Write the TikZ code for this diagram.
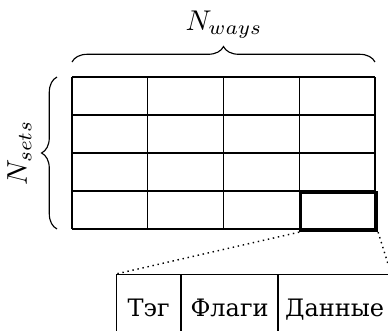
\documentclass[tikz,border=0pt]{standalone}
\usepackage{fontspec}
\newfontfamily\cyrfont{DejaVu Serif}
\usetikzlibrary{decorations.pathreplacing}
\begin{document}
\begin{tikzpicture}[x=0.35pt,y=-0.35pt,
  gridline/.style={line width=0.4pt},
  selcell/.style={draw,line width=1.1pt,inner sep=0pt,anchor=north west,
    minimum width=26.51pt,minimum height=13.3pt},
  fieldbox/.style={draw,line width=0.4pt,inner sep=0pt,anchor=north west,
    minimum height=23.8pt,text height=1.6ex,text depth=0.3ex,
    font=\cyrfont\fontsize{8.4pt}{10pt}\selectfont},
  bracestyle/.style={decorate,decoration={brace,amplitude=5.4pt},line width=0.4pt},
  dotline/.style={line width=0.5pt,dash pattern=on 0.5pt off 1.3pt}]
\useasboundingbox (0,0) rectangle (388,331);
\clip (0,0) rectangle (388,331);
% grid
\foreach \i in {0,...,4}
  \draw[gridline] ({72+\i*75.75},77) -- ({72+\i*75.75},229);
\foreach \j in {0,...,4}
  \draw[gridline] (72,{77+\j*38}) -- (375,{77+\j*38});
\node[selcell] (sel) at (299.25,191) {};
% braces
\coordinate (tl) at (72,62);
\coordinate (tr) at (375,62);
\draw[bracestyle] (tl) -- (tr);
\node[anchor=base] (nways) at (224,30) {$N_{ways}$};
\coordinate (lb) at (57,229);
\coordinate (lt) at (57,77);
\draw[bracestyle] (lb) -- (lt);
\node[anchor=base,rotate=90] (nsets) at (27,153) {$N_{sets}$};
% fields
\node[fieldbox,minimum width=22.4pt] (tag) at (116,274) {Тэг};
\node[fieldbox,minimum width=33.6pt] (flags) at (181,274) {Флаги};
\node[fieldbox,minimum width=39.2pt] (data) at (278,274) {Данные};
% zoom connectors
\draw[dotline] (sel.south west) -- (tag.north west);
\draw[dotline] (sel.south east) -- (data.north east);
\end{tikzpicture}
\end{document}
